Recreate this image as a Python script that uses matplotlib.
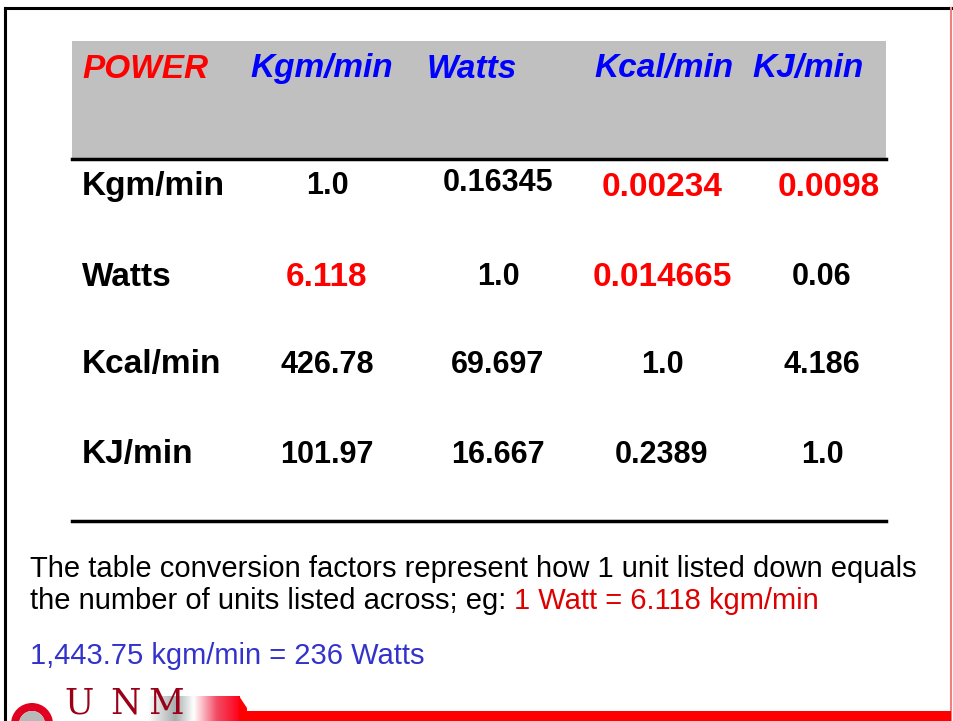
import numpy as np
import matplotlib.pyplot as plt
from matplotlib.patches import Wedge, Polygon

# Datos de la tabla
headers = ["Kgm/min", "Watts", "Kcal/min", "KJ/min"]
row_labels = ["Kgm/min", "Watts", "Kcal/min", "KJ/min"]
values = [
    ["1.0", "0.16345", "0.00234", "0.0098"],
    ["6.118", "1.0", "0.014665", "0.06"],
    ["426.78", "69.697", "1.0", "4.186"],
    ["101.97", "16.667", "0.2389", "1.0"],
]
# celdas resaltadas en rojo
highlight = [
    [False, False, True, True],
    [True, False, True, False],
    [False, False, False, False],
    [False, False, False, False],
]
note_black = ["The table conversion factors represent how 1 unit listed down equals",
              "the number of units listed across; eg: "]
note_red = "1 Watt = 6.118 kgm/min"
note_blue = "1,443.75 kgm/min = 236 Watts"
logo_letters = ["U", "N", "M"]

plt.rcParams["font.family"] = ["Liberation Sans", "DejaVu Sans"]

W, H = 954, 721
fig = plt.figure(figsize=(W / 100, H / 100), dpi=100)
ax = fig.add_axes([0, 0, 1, 1])
ax.set_xlim(0, W)
ax.set_ylim(H, 0)
ax.axis("off")

# marco de la diapositiva
ax.plot([5, 5], [8, H], color="black", lw=2.2)
ax.plot([5, W], [8, 8], color="black", lw=2.2)
ax.plot([951, 951], [8, H], color="#f08080", lw=1.5)

# cabecera gris
ax.add_patch(plt.Rectangle((72, 41), 814, 118, color="#c0c0c0", lw=0))
ax.plot([72, 886], [159, 159], color="black", lw=2.5)
ax.plot([72, 886], [521, 521], color="black", lw=2.5)

head_size = 24
ax.text(82, 69, "POWER", color="#ff0000", fontsize=head_size, fontweight="bold",
        fontstyle="italic", ha="left", va="center")
head_x = [250, 427, 594, 752]
for x, h in zip(head_x, headers):
    ax.text(x, 69, h, color="#0000ff", fontsize=head_size, fontweight="bold",
            fontstyle="italic", ha="left", va="center")

row_y = [186, 277, 365, 455]
col_x = [327, 498, 662, 822]
for i, (y, lab) in enumerate(zip(row_y, row_labels)):
    ax.text(82, y, lab, color="black", fontsize=24, fontweight="bold",
            ha="left", va="center")
    for j, x in enumerate(col_x):
        if highlight[i][j]:
            ax.text(x + 7 * (j == 3), y + 1, values[i][j], color="#ff0000", fontsize=24,
                    fontweight="bold", ha="center", va="center")
        else:
            ax.text(x, y - 3 * (i == 0 and j == 1), values[i][j], color="black",
                    fontsize=22, fontweight="bold", ha="center", va="center")

# notas inferiores
ax.text(30, 569, note_black[0], color="black", fontsize=21, ha="left", va="center")
t2 = ax.text(30, 601, note_black[1], color="black", fontsize=21, ha="left", va="center")
fig.canvas.draw()
bb = t2.get_window_extent().transformed(ax.transData.inverted())
ax.text(bb.x1, 601, note_red, color="#dd0000", fontsize=21, ha="left", va="center")
ax.text(30, 656, note_blue, color="#3333cc", fontsize=21, ha="left", va="center")

# logo y barra roja inferior
grad = np.linspace(0, 1, 300)
stops = [0, 0.6, 0.72, 0.8, 0.9, 1]
cols = np.zeros((1, 300, 3))
cols[0, :, 0] = np.interp(grad, stops, [1.0, 1.0, 0.65, 1.0, 0.95, 1.0])
cols[0, :, 1] = np.interp(grad, stops, [1.0, 1.0, 0.68, 1.0, 0.3, 0.0])
cols[0, :, 2] = np.interp(grad, stops, [1.0, 1.0, 0.68, 1.0, 0.4, 0.1])
ax.imshow(cols, extent=(10, 240, H, 696), aspect="auto", zorder=1)
ax.add_patch(Polygon([(239, 696), (247, 708), (247, H), (239, H)], closed=True,
                     color="#ff0000", lw=0, zorder=2))
ax.add_patch(plt.Rectangle((247, 711), 704, 10, color="#ff0000", lw=0, zorder=2))
ax.add_patch(Wedge((32, 724), 21, 180, 360, width=8, color="#e00020", lw=0, zorder=3))
ax.add_patch(Wedge((32, 724), 13, 180, 360, color="#b8b8b8", lw=0, zorder=3))
for x, letter in zip([64, 110, 148], logo_letters):
    ax.text(x, 721, letter, color="#9a0018", fontsize=25, family="DejaVu Serif",
            ha="left", va="bottom", zorder=4)
ax.set_xlim(0, W)
ax.set_ylim(H, 0)

fig.savefig("out.png", dpi=100)
